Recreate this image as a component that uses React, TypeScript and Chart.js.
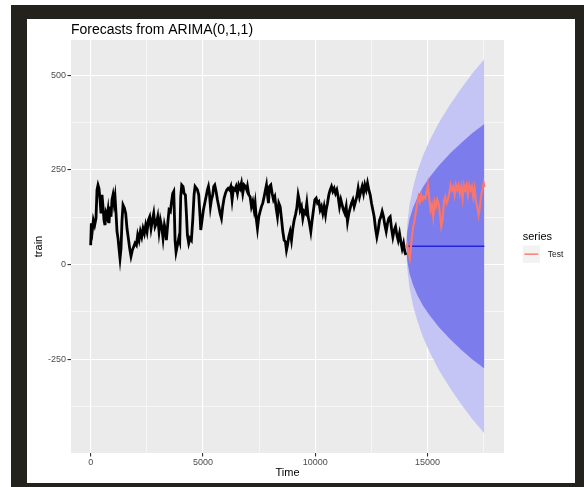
import React, { useEffect, useRef } from "react";
import { Chart, registerables } from "chart.js";

Chart.register(...registerables);

// ---- training series (time index, value) ----
const TRAIN_TIME = [
  0, 30, 75, 120, 178, 237, 282, 327, 371, 416, 460, 505, 549, 594, 638, 683, 728, 772, 817, 861, 906, 950, 995,
  1040, 1084, 1129, 1173, 1218, 1262, 1307, 1351, 1396, 1440, 1500, 1560, 1618, 1678, 1738, 1796, 1856, 1916, 1975,
  2035, 2094, 2154, 2213, 2273, 2332, 2392, 2451, 2511, 2570, 2629, 2689, 2748, 2807, 2867, 2926, 2986, 3045, 3105,
  3164, 3223, 3283, 3342, 3372, 3446, 3490, 3550, 3594, 3654, 3699, 3728, 3758, 3802, 3862, 3921, 3966, 4010, 4055,
  4114, 4158, 4218, 4263, 4307, 4367, 4426, 4485, 4545, 4604, 4649, 4708, 4753, 4812, 4872, 4902, 4960, 5020, 5080,
  5139, 5199, 5244, 5288, 5333, 5377, 5436, 5481, 5526, 5585, 5645, 5704, 5764, 5823, 5882, 5942, 6001, 6060, 6120,
  6179, 6238, 6298, 6357, 6417, 6476, 6536, 6595, 6655, 6714, 6773, 6833, 6892, 6951, 6981, 7040, 7100, 7159, 7219,
  7278, 7323, 7382, 7427, 7486, 7546, 7605, 7664, 7724, 7783, 7828, 7873, 7917, 7962, 8021, 8080, 8140, 8199, 8259,
  8318, 8377, 8437, 8496, 8556, 8615, 8674, 8719, 8764, 8823, 8882, 8942, 9001, 9061, 9120, 9179, 9239, 9283, 9328,
  9387, 9447, 9506, 9566, 9625, 9684, 9744, 9803, 9863, 9922, 9982, 10041, 10100, 10160, 10219, 10278, 10338, 10397,
  10457, 10486, 10546, 10605, 10665, 10724, 10784, 10843, 10903, 10962, 11021, 11081, 11140, 11200, 11259, 11318,
  11378, 11437, 11497, 11556, 11615, 11675, 11734, 11794, 11853, 11912, 11972, 12031, 12091, 12150, 12209, 12269,
  12328, 12388, 12447, 12506, 12566, 12625, 12686, 12744, 12803, 12863, 12922, 12981, 13041, 13100, 13160, 13219,
  13279, 13338, 13398, 13457, 13516, 13576, 13635, 13694, 13754, 13813, 13872, 13932, 13991, 14036,
];
const TRAIN_VALUES = [
  51, 109, 91, 117, 104, 122, 197, 210, 201, 171, 135, 184, 153, 117, 104, 135, 126, 144, 109, 153, 126, 171, 184,
  162, 179, 135, 87, 69, 42, 16, 42, 117, 157, 149, 135, 95, 69, 42, 22, 38, 47, 56,
  51, 78, 64, 87, 73, 95, 82, 104, 87, 117, 126, 95, 117, 135, 100, 109, 126, 87, 117,
  100, 69, 104, 87, 64, 117, 144, 140, 162, 188, 193, 135, 64, 33, 51, 69, 60, 179, 210,
  206, 188, 184, 135, 78, 56, 69, 64, 117, 184, 206, 201, 197, 184, 126, 91, 117, 144, 162,
  179, 197, 206, 188, 153, 171, 184, 206, 210, 193, 171, 153, 135, 122, 153, 175, 188, 197, 201,
  197, 206, 171, 201, 197, 206, 188, 210, 201, 215, 188, 210, 206, 197, 206, 184, 179, 153, 166,
  144, 162, 117, 95, 126, 140, 153, 162, 179, 197, 210, 184, 162, 206, 210, 188, 171, 179, 149,
  126, 162, 153, 122, 87, 64, 60, 38, 51, 73, 87, 64, 95, 117, 131, 149, 184, 171, 144,
  153, 122, 140, 135, 162, 126, 109, 87, 117, 144, 171, 175, 162, 166, 144, 153, 135, 153,
  131, 144, 162, 184, 197, 206, 193, 201, 188, 197, 179, 153, 171, 157, 144, 135,
  153, 113, 135, 149, 162, 171, 153, 166, 179, 201, 179, 193, 206, 188, 210, 197,
  215, 197, 184, 162, 144, 126, 95, 73, 91, 117, 126, 140, 126, 104, 87, 109,
  122, 126, 95, 73, 91, 100, 78, 64, 82, 60, 42, 56, 33, 25,
];

// ---- hold-out test series ----
const TEST_TIME = [
  14060, 14096, 14156, 14215, 14274, 14319, 14363, 14423, 14482, 14542, 14601, 14660, 14720, 14779, 14838, 14898,
  14957, 15017, 15076, 15136, 15195, 15254, 15314, 15373, 15433, 15492, 15551, 15611, 15670, 15730, 15789, 15848,
  15908, 15967, 16027, 16086, 16145, 16205, 16264, 16324, 16383, 16442, 16502, 16561, 16621, 16680, 16739, 16799,
  16858, 16918, 16977, 17036, 17096, 17155, 17214, 17274, 17333, 17393, 17452, 17497, 17530,
];
const TEST_VALUES = [
  42, 51, 29, 16, 56, 82, 100, 117, 140, 162, 179, 166, 184, 171, 179, 175,
  188, 210, 175, 144, 157, 126, 166, 153, 171, 162, 135, 100, 117, 166, 179, 162,
  171, 188, 210, 197, 206, 184, 210, 197, 210, 188, 206, 175, 210, 197, 210, 184,
  210, 197, 206, 179, 201, 166, 153, 131, 153, 184, 201, 215, 205,
];

// ---- ARIMA(0,1,1) point forecast and prediction intervals ----
const FORECAST_TIME = [14060, 17530];
const FORECAST_MEAN = [48, 48];
const BAND_TIME = [14060, 14100, 14200, 14350, 14550, 14800, 15100, 15500, 16000, 16500, 17000, 17530];
const UPPER_95 = [68, 108, 158, 203, 246, 288, 328, 374, 422, 465, 505, 542];
const LOWER_95 = [28, -12, -62, -107, -150, -192, -232, -278, -326, -369, -409, -446];
const UPPER_80 = [61, 87, 120, 149, 177, 205, 231, 261, 293, 321, 347, 371];
const LOWER_80 = [35, 9, -24, -53, -81, -109, -135, -165, -197, -225, -251, -275];

// ---- axes ----
const X_MAJOR = [0, 5000, 10000, 15000];
const X_MINOR = [2500, 7500, 12500, 17500];
const Y_MAJOR = [-250, 0, 250, 500];
const Y_MINOR = [-375, -125, 125, 375];
const X_RANGE = [-876, 18406];
const Y_RANGE = [-498, 593];

const TITLE = "Forecasts from ARIMA(0,1,1)";
const X_TITLE = "Time";
const Y_TITLE = "train";
const LEGEND_TITLE = "series";
const LEGEND_LABEL = "Test";

const FONT = "'Liberation Sans', Arial, Helvetica, sans-serif";
const PANEL_BG = "#EBEBEB";
const LIGHT_BAND = "#C4C4F5";
const DARK_BAND = "#7C7CEC";
const MEAN_COLOR = "#2525D8";
const TEST_COLOR = "#F8766D";

const pts = (xs: number[], ys: number[]) => xs.map((x, i) => ({ x, y: ys[i] }));

const panelAndLegend = {
  id: "panelAndLegend",
  beforeDraw(chart: any) {
    const { ctx, chartArea: a } = chart;
    ctx.save();
    ctx.fillStyle = PANEL_BG;
    ctx.fillRect(a.left, a.top, a.right - a.left, a.bottom - a.top);
    ctx.restore();
  },
  afterDraw(chart: any) {
    const { ctx, chartArea: a } = chart;
    ctx.save();
    // plot title
    ctx.fillStyle = "#000000";
    ctx.font = `14px ${FONT}`;
    ctx.textAlign = "left";
    ctx.textBaseline = "alphabetic";
    ctx.fillText(TITLE, a.left, 14.5);

    // legend
    const lx = a.right + 18.7;
    ctx.font = `11px ${FONT}`;
    ctx.textBaseline = "middle";
    ctx.fillText(LEGEND_TITLE, lx, 217.7);
    ctx.fillStyle = "#F2F2F2";
    ctx.fillRect(lx, 226.5, 17.3, 17.3);
    ctx.strokeStyle = TEST_COLOR;
    ctx.lineWidth = 1.4;
    ctx.beginPath();
    ctx.moveTo(lx + 1.7, 235.15);
    ctx.lineTo(lx + 15.6, 235.15);
    ctx.stroke();
    ctx.fillStyle = "#1A1A1A";
    ctx.font = `8.5px ${FONT}`;
    ctx.fillText(LEGEND_LABEL, lx + 25, 235.2);
    ctx.restore();
  },
};

export default function App() {
  const canvasRef = useRef<HTMLCanvasElement | null>(null);

  useEffect(() => {
    const canvas = canvasRef.current;
    if (!canvas) return;

    const xTicks = [...X_MAJOR, ...X_MINOR].sort((p, q) => p - q);
    const yTicks = [...Y_MAJOR, ...Y_MINOR].sort((p, q) => p - q);
    const isXMajor = (v: number) => X_MAJOR.includes(v);
    const isYMajor = (v: number) => Y_MAJOR.includes(v);

    const hidden = { borderWidth: 0, pointRadius: 0, fill: false };

    const chart = new Chart(canvas, {
      type: "line",
      data: {
        datasets: [
          { ...hidden, data: pts(BAND_TIME, LOWER_95), order: 10 },
          {
            data: pts(BAND_TIME, UPPER_95),
            borderWidth: 0,
            pointRadius: 0,
            fill: "-1",
            backgroundColor: LIGHT_BAND,
            order: 10,
          },
          { ...hidden, data: pts(BAND_TIME, LOWER_80), order: 9 },
          {
            data: pts(BAND_TIME, UPPER_80),
            borderWidth: 0,
            pointRadius: 0,
            fill: "-1",
            backgroundColor: DARK_BAND,
            order: 9,
          },
          {
            data: pts(TRAIN_TIME, TRAIN_VALUES),
            borderColor: "#000000",
            borderWidth: 2.8,
            pointRadius: 0,
            fill: false,
            tension: 0,
            order: 3,
          },
          {
            data: pts(FORECAST_TIME, FORECAST_MEAN),
            borderColor: MEAN_COLOR,
            borderWidth: 1.5,
            pointRadius: 0,
            fill: false,
            order: 2,
          },
          {
            label: LEGEND_LABEL,
            data: pts(TEST_TIME, TEST_VALUES),
            borderColor: TEST_COLOR,
            borderWidth: 2.2,
            pointRadius: 0,
            fill: false,
            tension: 0,
            order: 1,
          },
        ],
      },
      options: {
        animation: false,
        responsive: false,
        events: [],
        layout: { padding: { left: 0, right: 71, top: 21, bottom: 0 } },
        plugins: { legend: { display: false }, title: { display: false }, tooltip: { enabled: false } },
        scales: {
          x: {
            type: "linear",
            min: X_RANGE[0],
            max: X_RANGE[1],
            afterBuildTicks: (s: any) => {
              s.ticks = xTicks.map((value) => ({ value }));
            },
            afterFit: (s: any) => {
              s.height = 30;
            },
            border: { display: false },
            grid: {
              color: "#FFFFFF",
              lineWidth: (c: any) => (c.tick && isXMajor(c.tick.value) ? 1.1 : 0.55),
              tickColor: (c: any) => (c.tick && isXMajor(c.tick.value) ? "#333333" : "rgba(0,0,0,0)"),
              tickWidth: 1.1,
              tickLength: 3.5,
            },
            ticks: {
              autoSkip: false,
              maxRotation: 0,
              padding: 0.5,
              color: "#4D4D4D",
              font: { family: FONT, size: 9 },
              callback: (v: any) => (isXMajor(Number(v)) ? String(v) : ""),
            },
            title: {
              display: true,
              text: X_TITLE,
              color: "#000000",
              font: { family: FONT, size: 11 },
              padding: { top: 0, bottom: 3.6 },
            },
          },
          y: {
            type: "linear",
            min: Y_RANGE[0],
            max: Y_RANGE[1],
            afterBuildTicks: (s: any) => {
              s.ticks = yTicks.map((value) => ({ value }));
            },
            afterFit: (s: any) => {
              s.width = 44;
            },
            border: { display: false },
            grid: {
              color: "#FFFFFF",
              lineWidth: (c: any) => (c.tick && isYMajor(c.tick.value) ? 1.1 : 0.55),
              tickColor: (c: any) => (c.tick && isYMajor(c.tick.value) ? "#333333" : "rgba(0,0,0,0)"),
              tickWidth: 1.1,
              tickLength: 3.5,
            },
            ticks: {
              autoSkip: false,
              padding: 1.5,
              color: "#4D4D4D",
              font: { family: FONT, size: 9 },
              callback: (v: any) => (isYMajor(Number(v)) ? String(v) : ""),
            },
            title: {
              display: true,
              text: Y_TITLE,
              color: "#000000",
              font: { family: FONT, size: 11 },
              padding: { top: 4.9, bottom: 0 },
            },
          },
        },
      },
      plugins: [panelAndLegend],
    } as any);

    return () => chart.destroy();
  }, []);

  return (
    <div style={{ position: "fixed", left: 0, top: 0, width: 584, height: 487, background: "#FFFFFF", overflow: "hidden" }}>
      <div style={{ position: "absolute", left: 11, top: 5, width: 573, height: 482, background: "#23221D" }} />
      <div style={{ position: "absolute", left: 27, top: 19, width: 548, height: 464, background: "#FFFFFF" }}>
        <canvas ref={canvasRef} width={548} height={464} style={{ display: "block" }} />
      </div>
    </div>
  );
}
